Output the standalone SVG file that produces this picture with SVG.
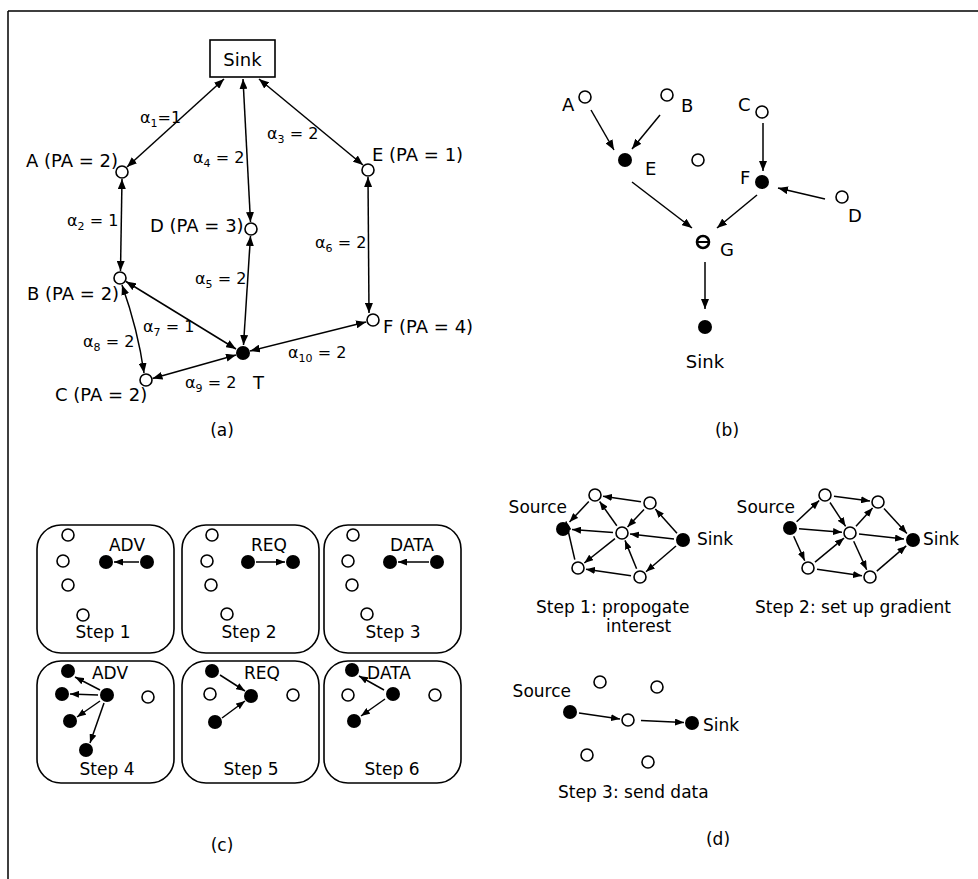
<svg xmlns="http://www.w3.org/2000/svg" width="978" height="879" viewBox="0 0 978 879">
<style>
text{font-family:"DejaVu Sans","Liberation Sans",sans-serif;font-size:17px;fill:#000}
.lg{font-size:18px}
.al{font-size:16px}
.sub{font-size:11px}
.m{text-anchor:middle}
.e{text-anchor:end}
.n{fill:#fff;stroke:#000;stroke-width:1.6}
.f{fill:#000}
.c{stroke:#000;stroke-width:1.5;fill:none}
.bx{fill:none;stroke:#000;stroke-width:1.6}
</style>
<defs>
<marker id="ah" viewBox="0 0 10 8" refX="10" refY="4" markerWidth="10" markerHeight="8" markerUnits="userSpaceOnUse" orient="auto-start-reverse"><path d="M0,0L10,4L0,8z"/></marker>
<marker id="as" viewBox="0 0 9 7" refX="9" refY="3.5" markerWidth="9" markerHeight="7" markerUnits="userSpaceOnUse" orient="auto-start-reverse"><path d="M0,0L9,3.5L0,7z"/></marker>
</defs>
<rect width="978" height="879" fill="#fff"/>
<g id="frame" class="c"><path d="M8,11H978M8,11V879"/></g>

<g id="connectors">
 <g id="conn-a" class="c" marker-start="url(#ah)" marker-end="url(#ah)">
  <path d="M224,79L127,167"/>
  <path d="M243,79L250.5,222"/>
  <path d="M259,79L363,165"/>
  <path d="M122,179L120.5,271"/>
  <path d="M250.5,236L243.5,345"/>
  <path d="M368,177L369,313"/>
  <path d="M126,281.5L236,349"/>
  <path d="M122,285Q138,330 144,373"/>
  <path d="M152.5,378.5L236,355"/>
  <path d="M250,351L366,322"/>
 </g>
 <g id="conn-b" class="c" marker-end="url(#ah)">
  <path d="M591,110L614,150"/>
  <path d="M660,115L632,149"/>
  <path d="M763,123L763,171"/>
  <path d="M825,199L778,188"/>
  <path d="M632,182L692,228"/>
  <path d="M757,195L717,228"/>
  <path d="M705,262L705,309"/>
 </g>
 <g id="conn-c" class="c" marker-end="url(#as)">
  <path d="M139,562L114,562"/>
  <path d="M256,562L285,562"/>
  <path d="M429,562L398,562"/>
  <path d="M100,690L75,677"/>
  <path d="M98,695L70,694"/>
  <path d="M100,701L77,717"/>
  <path d="M104,703L90,743"/>
  <path d="M220,675L245,691"/>
  <path d="M222,718L245,701"/>
  <path d="M384,690L359,676"/>
  <path d="M385,699L361,716"/>
 </g>
 <g id="conn-d" class="c" marker-end="url(#as)">
  <path d="M641,501.7L603,496.2"/>
  <path d="M644,509.6L627.5,527"/>
  <path d="M677,533.3L655.3,509"/>
  <path d="M674,539L630,534"/>
  <path d="M676,546L646,571.8"/>
  <path d="M616.8,525.7L599.6,501.5"/>
  <path d="M613,532.4L572,529.6"/>
  <path d="M615,538.6L584.3,563"/>
  <path d="M636.6,568.7L625,540.4"/>
  <path d="M631,575.7L586,569.2"/>
  <path d="M588.8,501.6L569.5,522"/>
  <path d="M574.8,559.6L566,521.5"/>

  <path d="M796.6,521.8L819.2,500.5"/>
  <path d="M799,528.7L842,532.3"/>
  <path d="M793.7,536.2L804.7,560.7"/>
  <path d="M834,496.2L870,501"/>
  <path d="M830,502.5L845.6,526.3"/>
  <path d="M856,526.3L872.6,508"/>
  <path d="M859,534L904,539"/>
  <path d="M853.7,541.2L866.7,569.7"/>
  <path d="M815,562.2L844,538.1"/>
  <path d="M817,569.3L862,575.8"/>
  <path d="M884,508.6L906.9,533.4"/>
  <path d="M876.8,571.1L906.2,545.9"/>

  <path d="M579,713L620,719"/>
  <path d="M641,720.5L684,722.5"/>
 </g>
</g>

<!-- Panel (a) -->
<g id="a-sink"><rect x="210" y="40" width="65" height="37" class="bx"/><text x="242.5" y="66" class="m lg">Sink</text></g>
<g id="a-A"><circle cx="122" cy="172" r="6" class="n"/><text x="26" y="167" class="lg">A (PA = 2)</text></g>
<g id="a-E"><circle cx="368" cy="170" r="6" class="n"/><text x="372" y="161" class="lg">E (PA = 1)</text></g>
<g id="a-D"><circle cx="251" cy="229" r="6" class="n"/><text x="150" y="232" class="lg">D (PA = 3)</text></g>
<g id="a-B"><circle cx="120" cy="278" r="6" class="n"/><text x="27" y="300" class="lg">B (PA = 2)</text></g>
<g id="a-F"><circle cx="373" cy="320" r="6" class="n"/><text x="383" y="333" class="lg">F (PA = 4)</text></g>
<g id="a-C"><circle cx="146" cy="380" r="6" class="n"/><text x="55" y="401" class="lg">C (PA = 2)</text></g>
<g id="a-T"><circle cx="243" cy="353" r="7" class="f"/><text x="253" y="389" class="lg">T</text></g>
<g id="a-labels">
 <text x="140" y="123" class="al">α<tspan class="sub" dy="4">1</tspan><tspan dy="-4">=1</tspan></text>
 <text x="267" y="139" class="al">α<tspan class="sub" dy="4">3</tspan><tspan dy="-4"> = 2</tspan></text>
 <text x="193" y="163" class="al">α<tspan class="sub" dy="4">4</tspan><tspan dy="-4"> = 2</tspan></text>
 <text x="67" y="226" class="al">α<tspan class="sub" dy="4">2</tspan><tspan dy="-4"> = 1</tspan></text>
 <text x="195" y="284" class="al">α<tspan class="sub" dy="4">5</tspan><tspan dy="-4"> = 2</tspan></text>
 <text x="315" y="248" class="al">α<tspan class="sub" dy="4">6</tspan><tspan dy="-4"> = 2</tspan></text>
 <text x="143" y="332" class="al">α<tspan class="sub" dy="4">7</tspan><tspan dy="-4"> = 1</tspan></text>
 <text x="83" y="347" class="al">α<tspan class="sub" dy="4">8</tspan><tspan dy="-4"> = 2</tspan></text>
 <text x="185" y="388" class="al">α<tspan class="sub" dy="4">9</tspan><tspan dy="-4"> = 2</tspan></text>
 <text x="288" y="358" class="al">α<tspan class="sub" dy="4">10</tspan><tspan dy="-4"> = 2</tspan></text>
 <text x="222" y="436" class="m">(a)</text>
</g>

<!-- Panel (b) -->
<g id="b-A"><circle cx="585" cy="97" r="6" class="n"/><text x="562" y="111" class="lg">A</text></g>
<g id="b-B"><circle cx="667" cy="95" r="6" class="n"/><text x="681" y="112" class="lg">B</text></g>
<g id="b-C"><circle cx="762" cy="112" r="6" class="n"/><text x="738" y="111" class="lg">C</text></g>
<g id="b-E"><circle cx="625" cy="160" r="7" class="f"/><text x="645" y="175" class="lg">E</text></g>
<g id="b-X"><circle cx="698" cy="160" r="6" class="n"/></g>
<g id="b-F"><circle cx="762" cy="182" r="7" class="f"/><text x="740" y="184" class="lg">F</text></g>
<g id="b-D"><circle cx="842" cy="197" r="6" class="n"/><text x="848" y="222" class="lg">D</text></g>
<g id="b-G"><circle cx="703" cy="242" r="6" fill="#fff" stroke="#000" stroke-width="2.6"/><path d="M698,242H708" stroke="#000" stroke-width="2"/><text x="720" y="256" class="lg">G</text></g>
<g id="b-Sink"><circle cx="705" cy="327" r="7" class="f"/><text x="705" y="368" class="m lg">Sink</text></g>
<text x="727" y="436" class="m">(b)</text>

<!-- Panel (c) -->
<g id="c-step1">
 <rect x="37" y="525" width="137" height="128" rx="24" class="bx"/>
 <circle cx="68" cy="535" r="6" class="n"/><circle cx="63" cy="561" r="6" class="n"/><circle cx="68" cy="585" r="6" class="n"/><circle cx="83" cy="615" r="6" class="n"/>
 <circle cx="106" cy="562" r="7" class="f"/><circle cx="147" cy="562" r="7" class="f"/>
 <text x="127" y="551" class="m">ADV</text><text x="103" y="638" class="m">Step 1</text>
</g>
<g id="c-step2">
 <rect x="182" y="525" width="137" height="128" rx="24" class="bx"/>
 <circle cx="212" cy="535" r="6" class="n"/><circle cx="207" cy="561" r="6" class="n"/><circle cx="211" cy="585" r="6" class="n"/><circle cx="227" cy="614" r="6" class="n"/>
 <circle cx="248" cy="562" r="7" class="f"/><circle cx="293" cy="562" r="7" class="f"/>
 <text x="269" y="551" class="m">REQ</text><text x="249" y="638" class="m">Step 2</text>
</g>
<g id="c-step3">
 <rect x="324" y="525" width="137" height="128" rx="24" class="bx"/>
 <circle cx="353" cy="535" r="6" class="n"/><circle cx="348" cy="561" r="6" class="n"/><circle cx="352" cy="585" r="6" class="n"/><circle cx="367" cy="614" r="6" class="n"/>
 <circle cx="390" cy="562" r="7" class="f"/><circle cx="437" cy="562" r="7" class="f"/>
 <text x="412" y="551" class="m">DATA</text><text x="393" y="638" class="m">Step 3</text>
</g>
<g id="c-step4">
 <rect x="37" y="661" width="137" height="122" rx="24" class="bx"/>
 <circle cx="68" cy="671" r="7" class="f"/><circle cx="62" cy="694" r="7" class="f"/><circle cx="107" cy="695" r="7" class="f"/><circle cx="70" cy="721" r="7" class="f"/><circle cx="86" cy="750" r="7" class="f"/>
 <circle cx="148" cy="697" r="6" class="n"/>
 <text x="110" y="679" class="m">ADV</text><text x="107" y="775" class="m">Step 4</text>
</g>
<g id="c-step5">
 <rect x="182" y="661" width="137" height="122" rx="24" class="bx"/>
 <circle cx="212" cy="671" r="7" class="f"/><circle cx="251" cy="696" r="7" class="f"/><circle cx="215" cy="722" r="7" class="f"/>
 <circle cx="210" cy="694" r="6" class="n"/><circle cx="293" cy="695" r="6" class="n"/>
 <text x="262" y="679" class="m">REQ</text><text x="251" y="775" class="m">Step 5</text>
</g>
<g id="c-step6">
 <rect x="324" y="661" width="137" height="122" rx="24" class="bx"/>
 <circle cx="352" cy="670" r="7" class="f"/><circle cx="393" cy="694" r="7" class="f"/><circle cx="354" cy="721" r="7" class="f"/>
 <circle cx="348" cy="695" r="6" class="n"/><circle cx="435" cy="695" r="6" class="n"/>
 <text x="389" y="679" class="m">DATA</text><text x="392" y="775" class="m">Step 6</text>
</g>
<text x="222" y="851" class="m">(c)</text>

<!-- Panel (d) -->
<g id="d-step1">
 <circle cx="563" cy="529" r="7" class="f"/><circle cx="683" cy="540" r="7" class="f"/>
 <circle cx="595" cy="495" r="6" class="n"/><circle cx="650" cy="503" r="6" class="n"/><circle cx="622" cy="533" r="6" class="n"/><circle cx="578" cy="568" r="6" class="n"/><circle cx="640" cy="577" r="6" class="n"/>
 <text x="567" y="513" class="e">Source</text><text x="697" y="545">Sink</text>
 <text x="536" y="613">Step 1: propogate</text><text x="606" y="632">interest</text>
</g>
<g id="d-step2">
 <circle cx="790" cy="528" r="7" class="f"/><circle cx="913" cy="540" r="7" class="f"/>
 <circle cx="825" cy="495" r="6" class="n"/><circle cx="878" cy="502" r="6" class="n"/><circle cx="850" cy="533" r="6" class="n"/><circle cx="808" cy="568" r="6" class="n"/><circle cx="870" cy="577" r="6" class="n"/>
 <text x="795" y="513" class="e">Source</text><text x="923" y="545">Sink</text>
 <text x="755" y="613">Step 2: set up gradient</text>
</g>
<g id="d-step3">
 <circle cx="570" cy="712" r="7" class="f"/><circle cx="692" cy="723" r="7" class="f"/>
 <circle cx="628" cy="720" r="6" class="n"/><circle cx="600" cy="682" r="6" class="n"/><circle cx="657" cy="687" r="6" class="n"/><circle cx="587" cy="755" r="6" class="n"/><circle cx="648" cy="762" r="6" class="n"/>
 <text x="571" y="697" class="e">Source</text><text x="703" y="731">Sink</text>
 <text x="558" y="798">Step 3: send data</text>
</g>
<text x="718" y="845" class="m">(d)</text>
</svg>
